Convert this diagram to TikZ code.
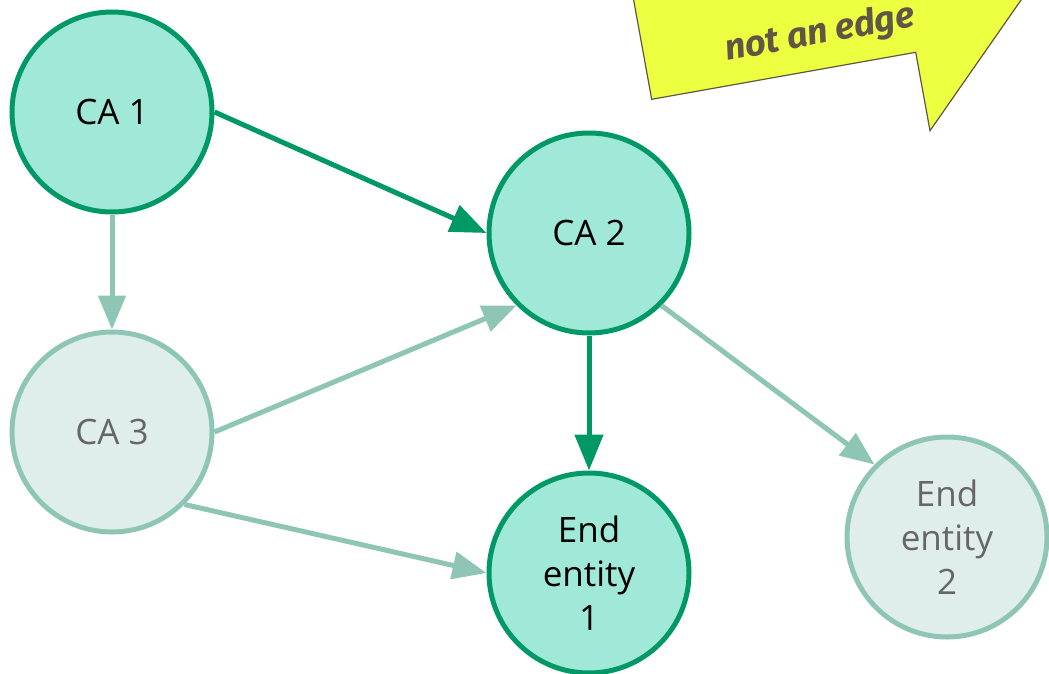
\documentclass[tikz,border=0pt]{standalone}
\usepackage{fontspec}
\setmainfont{Open Sans}
\newfontfamily\notefont{Fira Sans}
\usetikzlibrary{arrows.meta}
\definecolor{darkline}{HTML}{009966}
\definecolor{darkfill}{HTML}{A0E8D8}
\definecolor{lightline}{HTML}{8FC5B4}
\definecolor{lightfill}{HTML}{E0EEEB}
\definecolor{lighttext}{HTML}{666666}
\definecolor{notefill}{HTML}{ECFF40}
\definecolor{noteline}{HTML}{5F5646}
\tikzset{
  cert/.style={circle, minimum size=200pt, inner sep=0pt, line width=5pt,
    align=center, font=\fontsize{35}{44}\selectfont},
  strong/.style={cert, draw=darkline, fill=darkfill, text=black},
  faint/.style={cert, draw=lightline, fill=lightfill, text=lighttext},
  strongedge/.style={draw=darkline, line width=5pt,
    -{Triangle[length=36pt,width=28pt]}},
  faintedge/.style={draw=lightline, line width=5pt,
    -{Triangle[length=34pt,width=27pt]}},
  note/.style={fill=notefill, draw=noteline, line width=1.2pt}
}
\begin{document}
\begin{tikzpicture}[x=1pt,y=-1pt]
\useasboundingbox (0,0) rectangle (1049,674);
\clip (0,0) rectangle (1049,674);

% speech-bubble note in the corner
\draw[note] (630,-20) -- (651.7,99.3) -- (915.7,52.3) -- (930,130.7)
  -- (1035,-20) -- cycle;
\node[text=noteline, rotate=10.5, inner sep=0pt,
  font=\notefont\bfseries\itshape\fontsize{36}{40}\selectfont]
  (label) at (820,34) {not an edge};

% certificates
\node[strong] (ca1) at (112,112) {CA 1};
\node[strong] (ca2) at (589,233) {CA 2};
\node[faint]  (ca3) at (112,432) {CA 3};
\node[strong] (ee1) at (589,573) {End\\entity\\1};
\node[faint]  (ee2) at (947,537) {End\\entity\\2};

% issuing relations
\path[faintedge] (ca1.south) -- (ca3.north);
\path[faintedge] (ca3.east) -- (ca2.south west);
\path[faintedge] (ca3.south east) -- (ee1.west);
\path[faintedge] (ca2.south east) -- (ee2.north west);
\path[strongedge] (ca1.east) -- (ca2.west);
\path[strongedge] (ca2.south) -- (ee1.north);
\end{tikzpicture}
\end{document}
